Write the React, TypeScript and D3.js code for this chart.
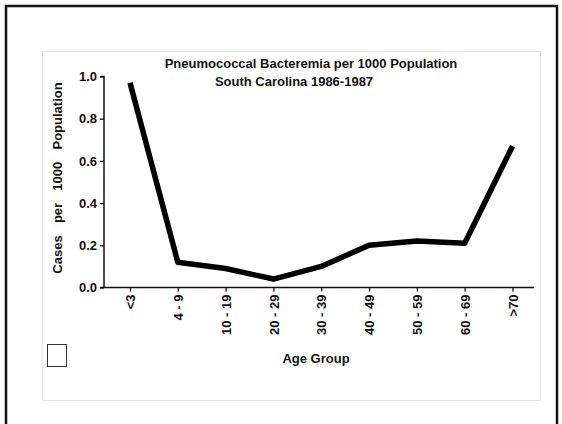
import React, { useEffect, useRef } from "react";
import * as d3 from "d3";

const ageGroups = ["<3", "4 - 9", "10 - 19", "20 - 29", "30 - 39", "40 - 49", "50 - 59", "60 - 69", ">70"];
const cases = [0.97, 0.12, 0.09, 0.04, 0.1, 0.2, 0.22, 0.21, 0.67];
const yTicks = [0, 0.2, 0.4, 0.6, 0.8, 1.0];

export default function App() {
  const svgRef = useRef<SVGSVGElement>(null);

  useEffect(() => {
    if (!svgRef.current) return;
    const width = 562;
    const height = 424;
    const font = "'Liberation Sans', Arial, sans-serif";
    const fs = "13px";

    d3.select(svgRef.current).selectAll("*").remove();
    const svg = d3.select(svgRef.current)
      .attr("width", width)
      .attr("height", height)
      .attr("viewBox", [0, 0, width, height]);

    svg.append("rect").attr("width", width).attr("height", height).attr("fill", "white");

    // outer frame (bottom edge falls off the picture)
    svg.append("rect")
      .attr("x", 6).attr("y", 6)
      .attr("width", 551).attr("height", 430)
      .attr("fill", "none").attr("stroke", "#111").attr("stroke-width", 2.5);

    // inner panel
    svg.append("rect")
      .attr("x", 42.5).attr("y", 51.5)
      .attr("width", 498).attr("height", 349)
      .attr("fill", "white").attr("stroke", "#e4e4e4").attr("stroke-width", 1);

    const x = d3.scalePoint<string>()
      .domain(ageGroups)
      .range([130, 512.5]);

    const y = d3.scaleLinear()
      .domain([0, 1])
      .range([287.5, 76.5]);

    // y axis
    const yAxis = svg.append("g")
      .attr("transform", "translate(104,0)")
      .call(d3.axisLeft(y).tickValues(yTicks).tickFormat(d3.format(".1f")).tickSize(4).tickPadding(3));
    yAxis.select(".domain").attr("stroke", "#111").attr("stroke-width", 1.5).attr("d", "M-4,76.5H0V287.5");
    yAxis.selectAll(".tick line").attr("stroke", "#111").attr("stroke-width", 1.3);
    yAxis.selectAll(".tick text")
      .attr("fill", "#111")
      .style("font-family", font)
      .style("font-size", fs)
      .style("font-weight", "bold");

    // x axis
    const xAxis = svg.append("g")
      .attr("transform", "translate(0,287.5)")
      .call(d3.axisBottom(x).tickSize(4).tickSizeOuter(0));
    xAxis.select(".domain").attr("stroke", "#111").attr("stroke-width", 1.5).attr("d", "M100,0H534");
    xAxis.selectAll(".tick line").attr("stroke", "#111").attr("stroke-width", 1.3);
    xAxis.selectAll(".tick text")
      .attr("fill", "#111")
      .attr("transform", "rotate(-90)")
      .attr("x", -7)
      .attr("y", 0)
      .attr("dy", "0.35em")
      .attr("text-anchor", "end")
      .style("white-space", "pre")
      .style("font-family", font)
      .style("font-size", fs)
      .style("font-weight", "bold");

    // data line
    const line = d3.line<number>()
      .x((_, i) => x(ageGroups[i]) as number)
      .y(d => y(d));
    svg.append("path")
      .datum(cases)
      .attr("d", line)
      .attr("fill", "none")
      .attr("stroke", "#000")
      .attr("stroke-width", 5.5)
      .attr("stroke-linejoin", "round");

    // titles
    svg.append("text")
      .attr("x", 311).attr("y", 67.5)
      .attr("text-anchor", "middle")
      .style("font-family", font).style("font-size", fs).style("font-weight", "bold")
      .attr("fill", "#111")
      .text("Pneumococcal Bacteremia per 1000 Population");
    svg.append("text")
      .attr("x", 294).attr("y", 85.5)
      .attr("text-anchor", "middle")
      .style("font-family", font).style("font-size", fs).style("font-weight", "bold")
      .attr("fill", "#111")
      .text("South Carolina 1986-1987");

    // axis titles
    svg.append("text")
      .attr("transform", "translate(62,178) rotate(-90)")
      .attr("text-anchor", "middle")
      .style("white-space", "pre")
      .style("word-spacing", "2.5px")
      .style("font-family", font).style("font-size", fs).style("font-weight", "bold")
      .attr("fill", "#111")
      .text("Cases  per  1000  Population");
    svg.append("text")
      .attr("x", 316).attr("y", 363)
      .attr("text-anchor", "middle")
      .style("font-family", font).style("font-size", fs).style("font-weight", "bold")
      .attr("fill", "#111")
      .text("Age Group");

    // small empty box
    svg.append("rect")
      .attr("x", 47.5).attr("y", 344.5)
      .attr("width", 19).attr("height", 22)
      .attr("fill", "white").attr("stroke", "#333").attr("stroke-width", 1);
  }, []);

  return (
    <div style={{ position: "absolute", left: 0, top: 0 }}>
      <svg ref={svgRef} style={{ display: "block" }}></svg>
    </div>
  );
}
